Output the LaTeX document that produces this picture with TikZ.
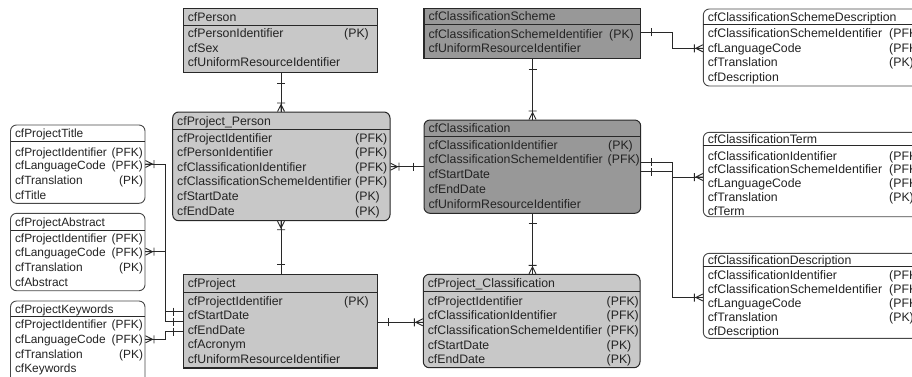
\documentclass[tikz,border=0pt]{standalone}
\usepackage{fontspec}
\setmainfont{Liberation Sans}
\usetikzlibrary{fit}
\definecolor{lgray}{RGB}{200,200,200}
\definecolor{dgray}{RGB}{152,152,152}
\definecolor{ink}{RGB}{35,35,35}
\definecolor{edgec}{RGB}{40,40,40}
\tikzset{
  sqbox/.style={draw=edgec, line width=1.3pt, fill=lgray},
  sqdark/.style={draw=edgec, line width=1.3pt, fill=dgray},
  rdbox/.style={draw=edgec, line width=1pt, rounded corners=6pt, fill=lgray},
  rddark/.style={draw=edgec, line width=1pt, rounded corners=6pt, fill=dgray},
  wbox/.style={draw=edgec!85, line width=0.9pt, rounded corners=6pt, fill=white},
  hline/.style={draw=edgec, line width=1pt},
  rowtxt/.style={inner sep=0pt, text=ink, font=\fontsize{12.3}{14}\selectfont, anchor=base west},
  conn/.style={draw=edgec, line width=0.9pt}
}
% #1 name, #2 style, #3 x1, #4 top, #5 x2, #6 bottom, #7 header line y, #8 title, #9 rows y/text/keyx/key
\newcommand\entity[9]{%
  \node[fit={(#3,#4) (#5,#6)}, inner sep=0pt, #2] (#1) {};
  \draw[hline] (#3,#7) -- (#5,#7);
  \node[rowtxt] (#1-t) at (#3+4.3, {(#4+#7)/2+4.6}) {#8};
  \foreach \yy/\rtext/\kx/\kk [count=\i] in {#9} {
    \node[rowtxt] (#1-r\i) at (#3+4.3, \yy+4.3) {\rtext};
    \ifx\kk\empty\else
      \node[rowtxt] (#1-k\i) at (\kx, \yy+4.3) {(\kk)};
    \fi
  }%
}
\newcommand\crowft[2]{\begin{scope}[shift={#1},rotate=#2]
  \draw[conn] (0,3.5) -- (7,0) -- (0,-3.5) (0,0) -- (7,0) (8.5,4) -- (8.5,-4);
\end{scope}}
\newcommand\onebar[3]{\begin{scope}[shift={#1},rotate=#2]
  \draw[conn] (#3,4) -- (#3,-4);
\end{scope}}

\begin{document}
\begin{tikzpicture}[x=1pt, y=-1pt]
\useasboundingbox (0,0) rectangle (912,376);
\fill[white] (0,0) rectangle (912,376);
\clip (0,0) rectangle (912,376);

% central entities
\entity{person}{sqbox}{183.3}{8.3}{377.7}{72.3}{25}{cfPerson}
  {33.5/cfPersonIdentifier/344/PK, 48/cfSex//, 62.5/cfUniformResourceIdentifier//}
\entity{projperson}{rdbox}{172.7}{112}{390}{220.7}{129.5}{cfProject\_Person}
  {138.3/cfProjectIdentifier/355/PFK, 152/cfPersonIdentifier/355/PFK,
   166.7/cfClassificationIdentifier/355/PFK, 181.5/cfClassificationSchemeIdentifier/355/PFK,
   196.5/cfStartDate/355/PK, 211.5/cfEndDate/355/PK}
\entity{project}{sqbox}{183.3}{274.3}{377.3}{368}{292}{cfProject}
  {301/cfProjectIdentifier/344/PK, 315.5/cfStartDate//, 330/cfEndDate//,
   344.5/cfAcronym//, 359/cfUniformResourceIdentifier//}
\entity{scheme}{sqdark}{424}{8.3}{640.7}{58.3}{24.3}{cfClassificationScheme}
  {34.5/cfClassificationSchemeIdentifier/609/PK, 48.5/cfUniformResourceIdentifier//}
\entity{classif}{rddark}{424}{120}{640.7}{213.3}{136.7}{cfClassification}
  {145/cfClassificationIdentifier/608/PK, 159.5/cfClassificationSchemeIdentifier/607.5/PFK,
   174/cfStartDate//, 189/cfEndDate//, 204/cfUniformResourceIdentifier//}
\entity{projclass}{rdbox}{423.3}{274.3}{640}{367.7}{291.7}{cfProject\_Classification}
  {301/cfProjectIdentifier/606.5/PFK, 315.5/cfClassificationIdentifier/606.5/PFK,
   330/cfClassificationSchemeIdentifier/606.5/PFK, 345/cfStartDate/606.5/PK, 359/cfEndDate/606.5/PK}

% right entities
\entity{schemedesc}{wbox}{703.3}{9}{930}{86}{24.3}{cfClassificationSchemeDescription}
  {33.3/cfClassificationSchemeIdentifier/889/PFK, 48.5/cfLanguageCode/889/PFK,
   62.5/cfTranslation/889/PK, 76.7/cfDescription//}
\entity{term}{wbox}{703.3}{132.3}{930}{216.7}{145.5}{cfClassificationTerm}
  {155.7/cfClassificationIdentifier/889/PFK, 169.3/cfClassificationSchemeIdentifier/889/PFK,
   183.3/cfLanguageCode/889/PFK, 196.7/cfTranslation/889/PK, 210.7/cfTerm//}
\entity{classdesc}{wbox}{703.3}{253.3}{930}{338.3}{266.7}{cfClassificationDescription}
  {275/cfClassificationIdentifier/889/PFK, 289.3/cfClassificationSchemeIdentifier/889/PFK,
   303.3/cfLanguageCode/889/PFK, 316.7/cfTranslation/889/PK, 330.7/cfDescription//}

% left entities
\begin{scope}[rowtxt/.append style={font=\fontsize{11.9}{14}\selectfont}]
\entity{ptitle}{wbox}{10.5}{125}{145}{203.3}{141.7}{cfProjectTitle}
  {151.7/cfProjectIdentifier/111.5/PFK, 165/cfLanguageCode/111.5/PFK,
   180/cfTranslation/119/PK, 195/cfTitle//}
\entity{pabstract}{wbox}{10.5}{213.3}{145}{290.7}{230}{cfProjectAbstract}
  {238.3/cfProjectIdentifier/111.5/PFK, 251.7/cfLanguageCode/111.5/PFK,
   266.7/cfTranslation/119/PK, 281.7/cfAbstract//}
\entity{pkeywords}{wbox}{10.5}{301}{145}{390}{316.7}{cfProjectKeywords}
  {324.5/cfProjectIdentifier/111.5/PFK, 339.3/cfLanguageCode/111.5/PFK,
   354.5/cfTranslation/119/PK, 368.5/cfKeywords//}
\end{scope}

% connectors
\draw[conn] (person.south -| 281,0) -- (projperson.north -| 281,0);
\onebar{(person.south -| 281,0)}{270}{10}
\crowft{(projperson.north -| 281,0)}{90}

\draw[conn] (projperson.south -| 281,0) -- (project.north -| 281,0);
\crowft{(projperson.south -| 281,0)}{270}
\onebar{(project.north -| 281,0)}{90}{9}

\draw[conn] (projperson.east |- 0,166.7) -- (classif.west |- 0,166.7);
\crowft{(projperson.east |- 0,166.7)}{0}
\onebar{(classif.west |- 0,166.7)}{180}{10}

\draw[conn] (scheme.south -| 532.5,0) -- (classif.north -| 532.5,0);
\onebar{(scheme.south -| 532.5,0)}{270}{10}
\crowft{(classif.north -| 532.5,0)}{90}

\draw[conn] (scheme.east |- 0,32.3) -| (672.3,48.3) -- (schemedesc.west |- 0,48.3);
\onebar{(scheme.east |- 0,32.3)}{0}{10}
\crowft{(schemedesc.west |- 0,48.3)}{180}

\draw[conn] (classif.east |- 0,162) -| (672.3,177) -- (term.west |- 0,177);
\onebar{(classif.east |- 0,162)}{0}{10}
\crowft{(term.west |- 0,177)}{180}

\draw[conn] (classif.east |- 0,171.7) -| (672.3,297.5) -- (classdesc.west |- 0,297.5);
\onebar{(classif.east |- 0,171.7)}{0}{10}
\crowft{(classdesc.west |- 0,297.5)}{180}

\draw[conn] (classif.south -| 532.5,0) -- (projclass.north -| 532.5,0);
\onebar{(classif.south -| 532.5,0)}{270}{10}
\crowft{(projclass.north -| 532.5,0)}{90}

\draw[conn] (project.east |- 0,322.3) -- (projclass.west |- 0,322.3);
\onebar{(project.east |- 0,322.3)}{0}{10}
\crowft{(projclass.west |- 0,322.3)}{180}

\draw[conn] (project.west |- 0,311.7) -| (165,164) -- (ptitle.east |- 0,164);
\onebar{(project.west |- 0,311.7)}{180}{9.5}
\crowft{(ptitle.east |- 0,164)}{0}

\draw[conn] (project.west |- 0,321.7) -| (165,251.7) -- (pabstract.east |- 0,251.7);
\onebar{(project.west |- 0,321.7)}{180}{9.5}
\crowft{(pabstract.east |- 0,251.7)}{0}

\draw[conn] (project.west |- 0,331.7) -| (165,339.3) -- (pkeywords.east |- 0,339.3);
\onebar{(project.west |- 0,331.7)}{180}{9.5}
\crowft{(pkeywords.east |- 0,339.3)}{0}
\end{tikzpicture}
\end{document}
